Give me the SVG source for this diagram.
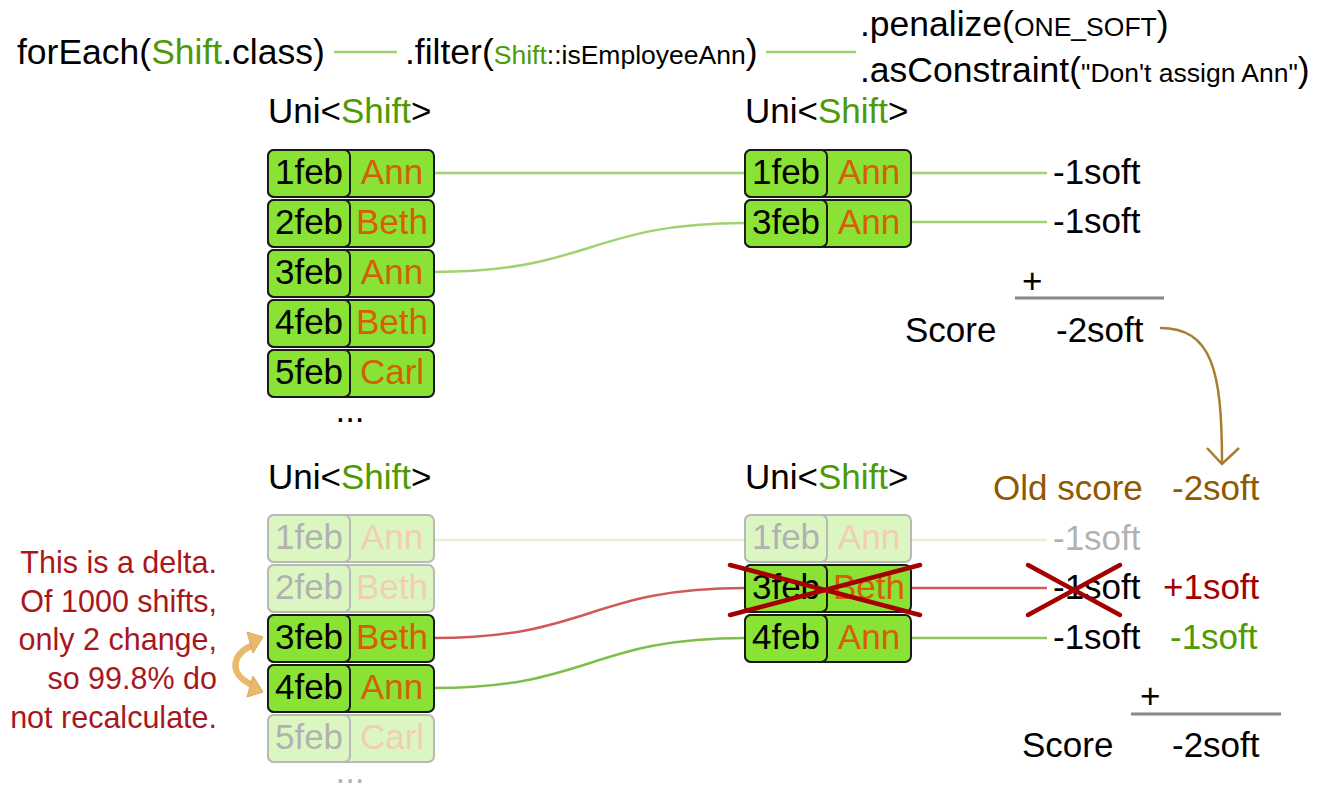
<svg xmlns="http://www.w3.org/2000/svg" width="1326" height="791" viewBox="0 0 1326 791">
<style>
text{font-family:"Liberation Sans",Arial,sans-serif;font-size:35px;fill:#000}
.t{font-size:35.5px}
.sm{font-size:26.5px}
.g{fill:#4e9a06}
.o{fill:#d45f08}
.r{fill:#a40000}
.br{fill:#8f5902}
.mid{text-anchor:middle}
.cell{fill:#8ae234;stroke:#1a1a1a;stroke-width:2}
.fade{opacity:0.3}
.con{fill:none;stroke:#9fd36f;stroke-width:2.5}
.conr{fill:none;stroke:#d05a5a;stroke-width:2.5}
.cross{stroke:#a40000;stroke-width:4.5;stroke-linecap:round}
.sum{stroke:#888a85;stroke-width:3}
.note{font-size:30.5px;fill:#a8171c;text-anchor:end}
</style>
<defs>
<g id="row">
<rect class="cell" x="0" y="0" width="166" height="47" rx="6"/>
<rect class="cell" x="0" y="0" width="82" height="47" rx="6"/>
</g>
</defs>

<g id="title">
<text class="t" x="17" y="64">forEach(<tspan class="g">Shift</tspan>.class)</text>
<text class="t" x="405" y="64">.filter(<tspan class="sm"><tspan class="g">Shift</tspan>::isEmployeeAnn</tspan>)</text>
<text class="t" x="860" y="36">.penalize(<tspan class="sm">ONE_SOFT</tspan>)</text>
<text class="t" x="860" y="82">.asConstraint(<tspan class="sm">"Don't assign Ann"</tspan>)</text>
</g>

<g id="connectors">
<line class="con" x1="334" y1="52" x2="397" y2="52"/>
<line class="con" x1="766" y1="52" x2="856" y2="52"/>
<line class="con" x1="434" y1="173" x2="745" y2="173"/>
<path class="con" d="M434,272 C590,272 590,223 745,223"/>
<line class="con" x1="911" y1="173" x2="1047" y2="173"/>
<line class="con" x1="911" y1="222" x2="1047" y2="222"/>
<line class="con" x1="434" y1="540" x2="745" y2="540" style="stroke:#e4f3d6"/>
<path class="conr" d="M434,638 C590,638 590,588 745,588"/>
<path class="con" d="M434,688 C590,688 590,638 745,638" style="stroke:#7cbf4a"/>
<line class="con" x1="911" y1="540" x2="1047" y2="540" style="stroke:#e4f3d6"/>
<line class="conr" x1="911" y1="588" x2="1047" y2="588"/>
<line class="con" x1="911" y1="638" x2="1047" y2="638" style="stroke:#8cc65c"/>
<path d="M1160,328 C1212,328 1222,370 1222,463" fill="none" stroke="#a97c2f" stroke-width="2.5"/>
<polyline points="1207,448 1222,464 1239,448" fill="none" stroke="#a97c2f" stroke-width="2.5"/>
<path d="M255,644 C229,655 229,676 255,686" fill="none" stroke="#e9b96e" stroke-width="6.5"/>
<polygon points="263,637 247,632 253,653" fill="#e9b96e" stroke="#d9a85e" stroke-width="1"/>
<polygon points="263,692 247,697 253,676" fill="#e9b96e" stroke="#d9a85e" stroke-width="1"/>
</g>

<g id="labels">
<text x="268" y="123">Uni&lt;<tspan class="g">Shift</tspan>&gt;</text>
<text x="745" y="123">Uni&lt;<tspan class="g">Shift</tspan>&gt;</text>
<text x="268" y="489">Uni&lt;<tspan class="g">Shift</tspan>&gt;</text>
<text x="745" y="489">Uni&lt;<tspan class="g">Shift</tspan>&gt;</text>
<text x="350" y="422" class="mid">...</text>
<text x="350" y="783" class="mid fade">...</text>
</g>

<g id="top-left-list">
<g id="tl1"><use href="#row" x="268" y="150"/><text x="309" y="184" class="mid">1feb</text><text x="392" y="184" class="mid o">Ann</text></g>
<g id="tl2"><use href="#row" x="268" y="200"/><text x="309" y="234" class="mid">2feb</text><text x="392" y="234" class="mid o">Beth</text></g>
<g id="tl3"><use href="#row" x="268" y="250"/><text x="309" y="284" class="mid">3feb</text><text x="392" y="284" class="mid o">Ann</text></g>
<g id="tl4"><use href="#row" x="268" y="300"/><text x="309" y="334" class="mid">4feb</text><text x="392" y="334" class="mid o">Beth</text></g>
<g id="tl5"><use href="#row" x="268" y="350"/><text x="309" y="384" class="mid">5feb</text><text x="392" y="384" class="mid o">Carl</text></g>
</g>

<g id="top-right-list">
<g id="tr1"><use href="#row" x="745" y="150"/><text x="786" y="184" class="mid">1feb</text><text x="869" y="184" class="mid o">Ann</text></g>
<g id="tr2"><use href="#row" x="745" y="200"/><text x="786" y="234" class="mid">3feb</text><text x="869" y="234" class="mid o">Ann</text></g>
</g>

<g id="top-score">
<text x="1053" y="184">-1soft</text>
<text x="1053" y="233">-1soft</text>
<text x="1022" y="293">+</text>
<line class="sum" x1="1015" y1="298" x2="1164" y2="298"/>
<text x="905" y="342">Score</text>
<text x="1056" y="342">-2soft</text>
</g>

<g id="bottom-left-list">
<g id="bl1" class="fade"><use href="#row" x="268" y="515"/><text x="309" y="549" class="mid">1feb</text><text x="392" y="549" class="mid o">Ann</text></g>
<g id="bl2" class="fade"><use href="#row" x="268" y="565"/><text x="309" y="599" class="mid">2feb</text><text x="392" y="599" class="mid o">Beth</text></g>
<g id="bl3"><use href="#row" x="268" y="615"/><text x="309" y="649" class="mid">3feb</text><text x="392" y="649" class="mid o">Beth</text></g>
<g id="bl4"><use href="#row" x="268" y="665"/><text x="309" y="699" class="mid">4feb</text><text x="392" y="699" class="mid o">Ann</text></g>
<g id="bl5" class="fade"><use href="#row" x="268" y="715"/><text x="309" y="749" class="mid">5feb</text><text x="392" y="749" class="mid o">Carl</text></g>
</g>

<g id="bottom-right-list">
<g id="br1" class="fade"><use href="#row" x="745" y="515"/><text x="786" y="549" class="mid">1feb</text><text x="869" y="549" class="mid o">Ann</text></g>
<g id="br2"><use href="#row" x="745" y="565"/><text x="786" y="599" class="mid">3feb</text><text x="869" y="599" class="mid o">Beth</text>
<line class="cross" x1="730" y1="565" x2="920" y2="615"/><line class="cross" x1="730" y1="615" x2="920" y2="565"/></g>
<g id="br3"><use href="#row" x="745" y="615"/><text x="786" y="649" class="mid">4feb</text><text x="869" y="649" class="mid o">Ann</text></g>
</g>

<g id="bottom-score">
<text x="993" y="500" class="br">Old score</text>
<text x="1172" y="500" class="br">-2soft</text>
<text x="1053" y="550" class="fade">-1soft</text>
<text x="1053" y="599">-1soft</text>
<line class="cross" x1="1028" y1="565" x2="1120" y2="615"/><line class="cross" x1="1028" y1="615" x2="1120" y2="565"/>
<text x="1163" y="599" class="r">+1soft</text>
<text x="1053" y="649">-1soft</text>
<text x="1170" y="649" class="g">-1soft</text>
<text x="1140" y="708">+</text>
<line class="sum" x1="1131" y1="714" x2="1281" y2="714"/>
<text x="1022" y="757">Score</text>
<text x="1172" y="757">-2soft</text>
</g>

<g id="note">
<text class="note" x="217" y="573">This is a delta.</text>
<text class="note" x="217" y="612">Of 1000 shifts,</text>
<text class="note" x="217" y="650">only 2 change,</text>
<text class="note" x="217" y="689">so 99.8% do</text>
<text class="note" x="217" y="728">not recalculate.</text>
</g>
</svg>
